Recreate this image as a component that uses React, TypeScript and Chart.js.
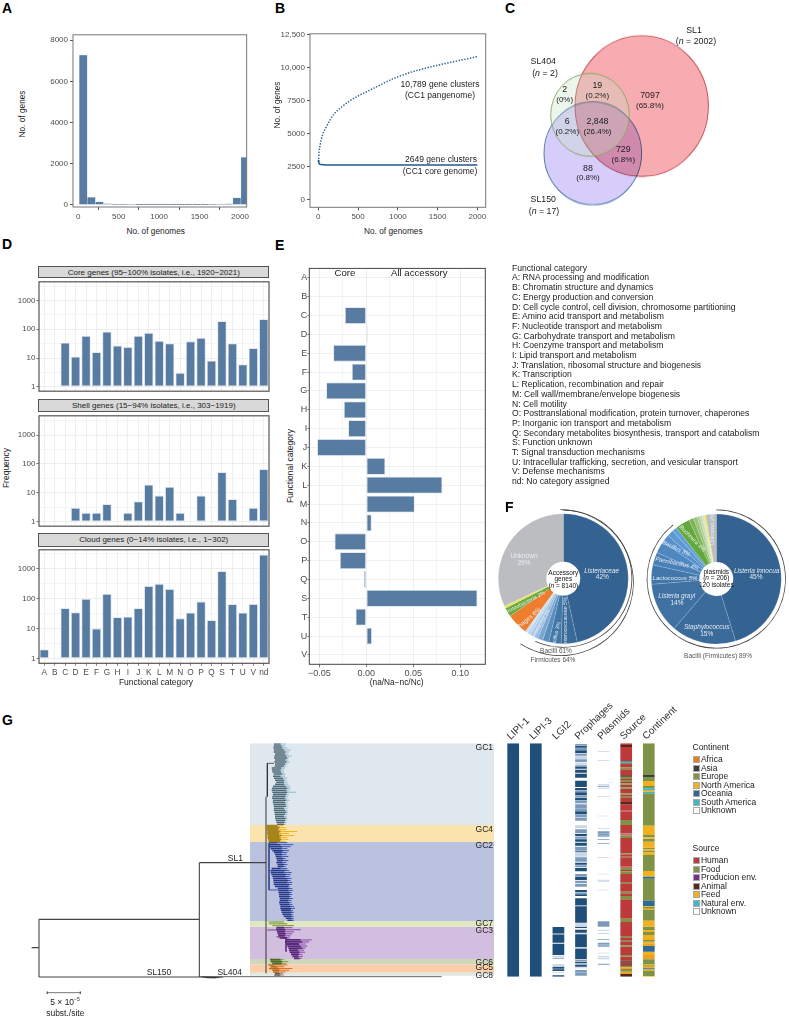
import React, { useEffect, useRef } from 'react';
import { Chart, registerables } from 'chart.js';
Chart.register(...registerables);

const FONT = '"Liberation Sans", Arial, sans-serif';
const BAR = '#587ba1';
const BAR_EDGE = 'rgba(205,216,230,0.9)';
const TICK = '#4d4d4d';

// ---------- A
const histBins = [62, 162, 262, 362, 462, 562, 662, 762, 862, 962, 1062, 1162, 1262, 1362, 1462, 1562, 1662, 1762, 1862, 1962, 2062];
const histGenes = [7280, 370, 150, 70, 30, 25, 20, 12, 10, 10, 8, 8, 8, 10, 10, 12, 15, 20, 50, 340, 2310];
// ---------- B
const panX = [1, 5, 10, 25, 50, 100, 150, 200, 300, 400, 500, 600, 700, 800, 900, 1000, 1100, 1200, 1300, 1400, 1500, 1600, 1700, 1800, 1900, 2000];
const panY = [2850, 3250, 3650, 4200, 4850, 5500, 6050, 6500, 7050, 7500, 7850, 8150, 8450, 8750, 9050, 9300, 9520, 9720, 9880, 10040, 10180, 10320, 10450, 10580, 10700, 10850];
const coreX = [1, 5, 15, 30, 100, 500, 1000, 1500, 2000];
const coreY = [3000, 2800, 2680, 2640, 2620, 2610, 2610, 2610, 2610];
// ---------- C  (SL404 is first so that it is painted last, as a pale veil)
const vennNames = ['SL404', 'SL1', 'SL150'];
const vennX = [50, 101.7, 52.8];
const vennY = [89.9, 81.6, 126.3];
const vennR = [39.3, 66.7, 48.8];
const vennFill = ['rgba(195,225,195,0.3)', '#f7acb2', '#d7cdfa'];
const vennStroke = ['#8aa860', '#c9505a', '#4a7fa8'];
// ---------- D
const cats = ['A', 'B', 'C', 'D', 'E', 'F', 'G', 'H', 'I', 'J', 'K', 'L', 'M', 'N', 'O', 'P', 'Q', 'S', 'T', 'U', 'V', 'nd'];
const coreFreq = [null, null, 34, 11, 58, 16, 82, 27, 24, 58, 75, 39, 32, 3, 38, 50, 8, 190, 32, 6, 22, 225];
const shellFreq = [null, null, null, 3, 2, 2, 4, null, 2, 5, 19, 8, 16, 2, null, 8, null, 52, 6, null, 3, 65];
const cloudFreq = [2, null, 48, 35, 98, 10, 145, 24, 25, 48, 265, 315, 210, 22, 34, 80, 19, 830, 65, 34, 66, 3000];
const logTicks = [1, 3.162, 10, 31.62, 100, 316.2, 1000, 3162];
const logMajor = [1, 10, 100, 1000];
// ---------- E
const eCats = ['A', 'B', 'C', 'D', 'E', 'F', 'G', 'H', 'I', 'J', 'K', 'L', 'M', 'N', 'O', 'P', 'Q', 'S', 'T', 'U', 'V'];
const eVals = [-0.0005, -0.0004, -0.0227, 0.0015, -0.0351, -0.0153, -0.0426, -0.0238, -0.0192, -0.0522, 0.0202, 0.0809, 0.0515, 0.0057, -0.0337, -0.028, -0.0025, 0.1182, -0.0113, 0.006, 0.0005];
const eTicks = [-0.05, -0.025, 0, 0.025, 0.05, 0.075, 0.1];
const eMajor = [-0.05, 0, 0.05, 0.1];
const funcLegend = [
  'Functional category', 'A: RNA processing and modification', 'B: Chromatin structure and dynamics', 'C: Energy production and conversion',
  'D: Cell cycle control, cell division, chromosome partitioning', 'E: Amino acid transport and metabolism', 'F: Nucleotide transport and metabolism',
  'G: Carbohydrate transport and metabolism', 'H: Coenzyme transport and metabolism', 'I: Lipid transport and metabolism',
  'J: Translation, ribosomal structure and biogenesis', 'K: Transcription', 'L: Replication, recombination and repair',
  'M: Cell wall/membrane/envelope biogenesis', 'N: Cell motility', 'O: Posttranslational modification, protein turnover, chaperones',
  'P: Inorganic ion transport and metabolism', 'Q: Secondary metabolites biosynthesis, transport and catabolism', 'S: Function unknown',
  'T: Signal transduction mechanisms', 'U: Intracellular trafficking, secretion, and vesicular transport', 'V: Defense mechanisms', 'nd: No category assigned',
];
// ---------- F
const accNames = ['Listeriaceae', 'Enterococcaceae', 'Bacillus', 'Lactobacillus', 'b5', 'b6', 'b7', 'b8', 'b9', 'Phages', 'Proteobacteria', 'Other', 'Unknown'];
const accShare = [46.5, 4, 3, 1.6, 1.3, 1.2, 0.9, 0.8, 0.6, 5.3, 2.2, 0.6, 31.9];
const accColors = ['#356391', '#3a6a99', '#4277a8', '#5a8ebd', '#7aa6d0', '#94bade', '#a9c9e6', '#bcd6ee', '#cde1f3', '#ef7d2e', '#6aa83e', '#e8e05a', '#bbbdc0'];
const plasNames = ['Listeria innocua', 'Staphylococcus', 'Listeria grayi', 'Lactococcus', 'Paenibacillus', 'Bacillus', 'b7', 'b8', 'b9', 'Buchnera', 'g2', 'g3', 'g4', 'g5', 'g6', 'Other', 'Unknown'];
const plasShare = [45.2, 16, 12.5, 4.8, 3.2, 3, 2, 1.6, 1.2, 3.6, 1.2, 0.9, 0.7, 0.6, 0.5, 0.4, 2.6];
const plasColors = ['#356391', '#3a6b9a', '#3f71a3', '#4377ac', '#4a80b8', '#4f88c0', '#5590cc', '#5c98d2', '#659fd8', '#62a83a', '#7eb558', '#98c278', '#aecf94', '#c2dbae', '#d3e5c4', '#f2e33c', '#bbbdc0'];
const bacilliArc = [56.7, 43.3];
const firmicutesArc = [59.2, 40.8];
const plasmidArc = [89.3, 10.7];
// ---------- G bands (binned genome rank, 0-700)
const gcNames = ['GC1', 'GC4', 'GC2', 'GC7', 'GC3', 'GC6', 'GC5', 'GC8'];
const gcStart = [0, 245, 296, 533, 550, 647, 663, 688];
const gcEnd = [245, 296, 533, 550, 647, 663, 688, 697];
const gcColors = ['#dfe8ef', '#fbe3ad', '#bac2e0', '#dfe8bf', '#d2bede', '#cfd8bc', '#fbcfab', '#dde9e5'];
// backbone edges: x0, y0, x1, y1 in branch length / rank
const spineEdges = [
  [-22, 613, 0, 613], [0, 528, 0, 701], [0, 528, 481, 528], [0, 701, 483, 701], [481, 358, 481, 701], [481, 358, 683, 358],
  [681, 160, 681, 690],
];
const thinEdges = [[685, 60, 685, 160], [685, 60, 705, 60], [481, 700, 1208, 700], [483, 701, 551, 702], [490, 702, 540, 703], [500, 703, 530, 704]];
const scaleBarEdges = [[25, 748, 124, 748], [25, 745, 25, 752], [124, 745, 124, 752]];
// tips: [left, core end, tip end]
const gc1Rows = [
  [705, 725, 740], [704, 728, 738], [703, 730, 745], [705, 735, 755], [704, 740, 750], [708, 738, 748], [706, 742, 758], [705, 745, 750], [708, 740, 748], [706, 743, 752], [708, 738, 745], [707, 735, 742],
  [698, 728, 738], [699, 725, 735], [700, 726, 735], [704, 730, 740], [702, 725, 738], [705, 732, 745], [708, 735, 742], [712, 735, 745], [708, 735, 748], [702, 740, 752], [699, 745, 755], [698, 742, 752], [700, 745, 772],
  [702, 742, 750], [700, 740, 748], [699, 738, 745], [702, 742, 752], [701, 738, 746], [703, 740, 745], [704, 741, 748], [705, 735, 745], [704, 738, 746], [706, 742, 748], [707, 738, 745], [708, 735, 744], [708, 740, 746], [710, 738, 744], [712, 737, 742], [714, 735, 740],
];
const gc4Rows = [[683, 715, 732], [684, 722, 740], [683, 718, 742], [685, 725, 775], [684, 720, 750], [686, 728, 765], [685, 722, 745], [687, 726, 748], [688, 724, 738]];
const gc2Rows = [
  [690, 715, 745], [690, 725, 763], [692, 730, 755], [695, 728, 745], [700, 733, 750], [705, 728, 745], [708, 730, 742], [710, 728, 748], [712, 732, 740], [714, 733, 748], [712, 730, 742], [715, 735, 745], [716, 733, 740],
  [698, 725, 745], [696, 740, 750], [695, 735, 758], [697, 742, 755], [700, 738, 752], [702, 745, 758],
  [703, 748, 755], [704, 745, 760], [704, 750, 758], [708, 748, 752], [716, 752, 760], [718, 748, 762], [718, 753, 758], [720, 750, 760], [720, 752, 756], [722, 752, 762], [722, 748, 758], [720, 750, 757], [722, 752, 760],
  [724, 755, 765], [724, 756, 768], [726, 755, 762], [728, 758, 765], [730, 756, 762], [734, 758, 764], [740, 758, 764], [745, 760, 765],
];
const gc7Rows = [[688, 700, 735], [690, 720, 745], [700, 745, 765]];
const gc3Rows = [
  [712, 735, 760], [711, 740, 785], [714, 738, 765], [716, 740, 760], [718, 738, 755], [722, 745, 752],
  [740, 785, 818], [738, 790, 810], [742, 780, 800], [745, 785, 805], [748, 790, 800], [750, 778, 795], [752, 782, 798], [756, 780, 790], [760, 778, 792], [765, 782, 788],
];
const gc6Rows = [[693, 725, 735], [695, 730, 748], [700, 728, 742]];
const gc5Rows = [[688, 705, 745], [695, 715, 735], [690, 720, 760], [700, 722, 750], [702, 720, 740]];
const gc8Rows = [[708, 722, 732], [706, 725, 735]];
const gc2Edges = [[690, 300, 690, 440], [690, 440, 718, 440], [690, 382, 700, 382]];
const gc3Edges = [[685, 560, 712, 560], [741, 585, 741, 625], [712, 580, 740, 585]];
// ---------- G tracks
const tracks = ['LIPI-1', 'LIPI-3', 'LGI2', 'Prophages', 'Plasmids', 'Source', 'Continent'];
const lipi1Runs = [[0, 700, 'd'], [12, 13, 'm'], [570, 571, 'm'], [610, 611, 'm']];
const lipi3Runs = [[0, 700, 'd'], [210, 211, 'm'], [130, 131, 'm']];
const lgi2Runs = [[551, 570, 'd'], [570, 574, 'm'], [574, 598, 'd'], [601, 635, 'd'], [637, 641, 'l'], [643, 646, 'm'], [663, 668, 'l'], [670, 676, 'd'], [678, 683, 'd'], [686, 688, 'l'], [696, 700, 'd']];
const prophageRuns = [
  [2, 7, 'm'], [8, 13, 'd'], [14, 20, 'm'], [21, 30, 'd'], [32, 37, 'm'], [38, 47, 'l'], [48, 56, 'm'], [58, 64, 'l'], [66, 70, 'm'],
  [70, 76, 'd'], [77, 78, 'l'], [79, 88, 'd'], [89, 90, 'l'], [91, 103, 'd'], [112, 131, 'd'], [134, 140, 'd'], [141, 146, 'm'], [147, 155, 'd'], [156, 162, 'm'], [163, 170, 'd'], [171, 180, 'm'], [183, 196, 'm'], [197, 203, 'm'], [204, 212, 'd'], [213, 222, 'm'], [223, 232, 'm'],
  [246, 254, 'l'], [258, 270, 'm'], [272, 279, 'd'], [281, 286, 'm'], [288, 295, 'd'], [298, 307, 'd'], [310, 322, 'm'], [324, 327, 'd'], [329, 340, 'l'], [342, 355, 'm'], [358, 364, 'd'], [366, 372, 'm'], [374, 384, 'd'],
  [392, 400, 'm'], [401, 410, 'd'], [412, 420, 'm'], [422, 430, 'm'], [440, 447, 'd'], [448, 452, 'm'], [453, 458, 'd'],
  [465, 485, 'd'], [486, 488, 'm'], [489, 538, 'd'], [540, 548, 'l'], [550, 554, 'd'], [556, 558, 'l'], [559, 568, 'd'], [570, 572, 'l'], [573, 612, 'd'], [614, 616, 'm'], [617, 648, 'd'],
  [650, 654, 'm'], [655, 660, 'd'], [661, 664, 'm'], [665, 670, 'd'], [672, 675, 'l'], [680, 688, 'm'], [689, 697, 'm'],
];
const plasmidRuns = [
  [23, 25, 'l'], [50, 52, 'l'], [122, 124, 'l'], [127, 130, 'm'], [133, 136, 'l'], [159, 161, 'l'], [217, 219, 'l'], [254, 256, 'l'], [264, 269, 'm'], [270, 275, 'm'], [276, 280, 'm'], [287, 289, 'm'], [299, 301, 'm'], [341, 343, 'l'], [391, 393, 'l'], [409, 412, 'l'], [414, 416, 'l'], [439, 441, 'l'],
  [534, 542, 'm'], [542, 550, 'm'], [559, 562, 'l'], [569, 572, 'l'], [587, 589, 'm'], [598, 604, 'm'], [606, 610, 'm'], [628, 630, 'l'], [638, 642, 'l'], [644, 648, 'l'], [661, 664, 'm'],
];
const sourceRuns = [
  [0, 5, 'R'], [5, 11, 'A'], [11, 53, 'R'], [53, 58, 'N'], [58, 62, 'F'], [62, 72, 'R'], [72, 78, 'F'], [78, 96, 'R'], [96, 100, 'A'], [100, 107, 'F'], [107, 112, 'R'], [112, 116, 'F'], [116, 120, 'R'], [120, 124, 'F'], [124, 132, 'R'], [132, 136, 'F'], [136, 150, 'R'], [150, 154, 'F'], [154, 160, 'R'], [160, 164, 'F'], [164, 176, 'R'], [176, 183, 'A'], [183, 202, 'R'], [202, 206, 'P'], [206, 230, 'R'], [230, 245, 'F'],
  [245, 270, 'R'], [270, 276, 'P'], [276, 284, 'F'], [284, 330, 'R'], [330, 333, 'F'], [333, 340, 'R'], [340, 342, 'F'], [342, 370, 'R'], [370, 374, 'P'], [374, 380, 'F'], [380, 384, 'R'], [384, 392, 'F'], [392, 418, 'R'], [418, 422, 'F'], [422, 445, 'R'], [445, 450, 'F'], [450, 458, 'R'], [458, 468, 'F'], [468, 526, 'R'], [526, 536, 'F'], [536, 578, 'R'], [578, 582, 'F'], [582, 590, 'R'], [590, 594, 'F'], [594, 606, 'R'], [606, 610, 'F'], [610, 635, 'R'], [635, 640, 'F'], [640, 652, 'R'], [652, 655, 'A'], [655, 660, 'R'], [660, 664, 'A'], [664, 668, 'R'], [668, 672, 'F'], [672, 677, 'O'], [677, 685, 'F'], [685, 692, 'O'], [692, 700, 'A'],
];
const continentRuns = [
  [0, 95, 'E'], [95, 102, 'S'], [102, 113, 'E'], [113, 128, 'G'], [128, 135, 'E'], [135, 140, 'T'], [140, 145, 'G'], [145, 150, 'T'], [150, 247, 'E'],
  [247, 275, 'G'], [275, 282, 'E'], [282, 286, 'G'], [286, 295, 'E'], [295, 313, 'G'], [313, 318, 'E'], [318, 323, 'G'], [323, 327, 'E'], [327, 335, 'G'], [335, 383, 'E'], [383, 400, 'G'], [400, 406, 'B'], [406, 472, 'E'], [472, 488, 'B'], [488, 490, 'G'], [490, 496, 'E'], [496, 500, 'G'], [500, 532, 'E'], [532, 550, 'G'], [550, 560, 'E'], [560, 566, 'G'], [566, 575, 'E'], [575, 590, 'G'], [590, 595, 'E'], [595, 600, 'G'], [600, 608, 'O'], [608, 625, 'B'], [625, 635, 'G'], [635, 648, 'O'], [648, 662, 'E'], [662, 666, 'G'], [666, 670, 'E'], [670, 675, 'G'], [675, 678, 'B'], [678, 683, 'G'], [683, 698, 'E'], [698, 700, 'G'],
];
const trackRuns = [lipi1Runs, lipi3Runs, lgi2Runs, prophageRuns, plasmidRuns, sourceRuns, continentRuns];
const stripeColors = { m: '#7c9bbc', l: '#c9d6e4', R: '#bc3a3a', F: '#7e9347', A: '#4f2a1c', N: '#4a8fb0', P: '#c96a78', O: '#f0a020', E: '#7e9347', G: '#f0b020', S: '#3f3f3f', B: '#2e6a93', T: '#3fb5c9', d: '#1f4e79' };
const continentLegend = [['Africa', '#ee7a1a'], ['Asia', '#3f3f3f'], ['Europe', '#7e9347'], ['North America', '#f0b020'], ['Oceania', '#2e6a93'], ['South America', '#3fb5c9'], ['Unknown', '#ffffff']];
const sourceLegend = [['Human', '#bc3a3a'], ['Food', '#7e9347'], ['Producion env.', '#7b2d8e'], ['Animal', '#5a2a1c'], ['Feed', '#f0b020'], ['Natural env.', '#3fb5c9'], ['Unknown', '#ffffff']];

// ---------- helpers
type Box = { L: number; T: number; R: number; B: number; m: number[] };

function build(box: Box, type: string, data: any, scales: any, opts: any = {}) {
  const [mL, mT, mR, mB] = box.m;
  const left = Math.floor(box.L - mL), top = Math.floor(box.T - mT);
  const width = Math.ceil(box.R + mR) - left, height = Math.ceil(box.B + mB) - top;
  const gapL = box.L - left, gapT = box.T - top, gapR = left + width - box.R, gapB = top + height - box.B;
  const showX = scales.x.display !== false, showY = scales.y.display !== false;
  const xTop = scales.x.position === 'top';
  if (showX) scales.x.afterFit = (s: any) => { s.height = xTop ? gapT : gapB; };
  if (showY) scales.y.afterFit = (s: any) => { s.width = gapL; };
  return {
    pos: { left, top, width, height },
    config: {
      type, data,
      plugins: opts.plugins || [],
      options: {
        responsive: false, animation: false, maintainAspectRatio: false, events: [],
        layout: { autoPadding: false, padding: { left: showY ? 0 : gapL, top: showX && xTop ? 0 : gapT, right: gapR, bottom: showX && !xTop ? 0 : gapB } },
        plugins: { legend: { display: false }, tooltip: { enabled: false }, title: { display: false } },
        scales, ...(opts.options || {}),
      },
    },
  };
}

function Plot({ spec, stretch }: { spec: any; stretch?: number }) {
  const ref = useRef<HTMLCanvasElement>(null);
  useEffect(() => {
    const c = new Chart(ref.current as any, spec.config);
    if (stretch) { (ref.current as any).style.height = spec.pos.height * stretch + 'px'; }
    return () => c.destroy();
  }, []);
  const { left, top, width, height } = spec.pos;
  return <canvas ref={ref} width={width} height={height} style={{ position: 'absolute', left, top, width, height }} />;
}

function T({ x, y, s = 8.5, c = '#222', a = 'c', r = 0, b, i, children }: any) {
  const tx = a === 'c' ? '-50%' : a === 'r' ? '-100%' : '0';
  return (
    <div style={{ position: 'absolute', left: x, top: y, fontSize: s, color: c, lineHeight: 1, whiteSpace: 'pre', fontWeight: b ? 700 : 400, fontStyle: i ? 'italic' : 'normal', transform: `translate(${tx},-50%) rotate(${r}deg)` }}>
      {children}
    </div>
  );
}

const framePlugin = (color: string, lw: number) => ({
  id: 'frame',
  afterDatasetsDraw(c: any) {
    const a = c.chartArea, g = c.ctx;
    g.save(); g.strokeStyle = color; g.lineWidth = lw;
    g.strokeRect(a.left, a.top, a.right - a.left, a.bottom - a.top);
    g.restore();
  },
});
const blendPlugin = {
  id: 'blend',
  beforeDatasetDraw(c: any, args: any) { c.ctx.globalCompositeOperation = args.index === 0 ? 'source-over' : 'multiply'; },
  afterDatasetsDraw(c: any) { c.ctx.globalCompositeOperation = 'source-over'; },
};

const tickFont = { family: FONT, size: 8 };
const fixedTicks = (vals: number[]) => (s: any) => { s.ticks = vals.map(value => ({ value })); };
const hidden = (extra: any = {}) => ({ type: 'linear', display: false, ...extra });
const plain = (v: number) => String(v);

const barStyle = { backgroundColor: BAR, borderColor: BAR_EDGE, borderWidth: 0.8, borderSkipped: false };

// ---------- A
const specA = build({ L: 73, T: 32.3, R: 247, B: 207, m: [30, 4, 4, 16] }, 'bar', {
  datasets: [{ data: histBins.map((x, i) => ({ x, y: histGenes[i] })), barThickness: 8, ...barStyle, borderWidth: 0.5 }],
}, {
  x: { type: 'linear', offset: false, min: -65, max: 2083, afterBuildTicks: fixedTicks([0, 500, 1000, 1500, 2000]), grid: { display: true, drawOnChartArea: false, tickLength: 3, tickColor: '#555' }, border: { display: false }, ticks: { font: tickFont, color: TICK, padding: 2, maxRotation: 0, autoSkip: false, callback: plain } },
  y: { min: -100, max: 8260, afterBuildTicks: fixedTicks([0, 2000, 4000, 6000, 8000]), grid: { display: true, drawOnChartArea: false, tickLength: 3, tickColor: '#555' }, border: { display: false }, ticks: { font: tickFont, color: TICK, padding: 2, callback: plain } },
}, { plugins: [framePlugin('#777', 1)] });

// ---------- B
const specB = build({ L: 310, T: 31.7, R: 485.7, B: 207.3, m: [36, 4, 4, 16] }, 'line', {
  datasets: [
    { data: coreX.map((x, i) => ({ x, y: coreY[i] })), borderColor: '#235a8c', borderWidth: 1.5, pointRadius: 0 },
    { data: panX.map((x, i) => ({ x, y: panY[i] })), borderColor: '#2f6597', borderWidth: 1.5, borderDash: [1.4, 1.5], pointRadius: 0, cubicInterpolationMode: 'monotone' },
  ],
}, {
  x: { type: 'linear', min: -105, max: 2105, afterBuildTicks: fixedTicks([0, 500, 1000, 1500, 2000]), grid: { display: true, drawOnChartArea: false, tickLength: 3, tickColor: '#555' }, border: { display: false }, ticks: { font: tickFont, color: TICK, padding: 2, maxRotation: 0, autoSkip: false, callback: plain } },
  y: { min: -600, max: 12570, afterBuildTicks: fixedTicks([0, 2500, 5000, 7500, 10000, 12500]), grid: { display: true, drawOnChartArea: false, tickLength: 3, tickColor: '#555' }, border: { display: false }, ticks: { font: tickFont, color: TICK, padding: 2, callback: (v: number) => (v >= 10000 ? v.toLocaleString('en-US') : String(v)) } },
}, { plugins: [framePlugin('#777', 1)] });

// ---------- C
const specC = build({ L: 540, T: 20, R: 740, B: 220, m: [0, 0, 0, 0] }, 'bubble', {
  datasets: vennNames.map((n, i) => ({ label: n, data: [{ x: vennX[i], y: vennY[i], r: vennR[i] }], backgroundColor: vennFill[i], borderColor: vennStroke[i], borderWidth: 0.9 })),
}, {
  x: hidden({ min: 0, max: 200 }),
  y: hidden({ min: 0, max: 200, reverse: true }),
}, { plugins: [blendPlugin] });

// ---------- D
const facet = (T0: number, B0: number, one: number, vals: any[], showX: boolean) => {
  const dec = 30.67;
  return build({ L: 39, T: T0, R: 269, B: B0, m: [28, 2, 2, showX ? 14 : 2] }, 'bar', {
    labels: cats,
    datasets: [{ data: vals, base: 1, barPercentage: 0.88, categoryPercentage: 1, ...barStyle }],
  }, {
    x: { type: 'category', offset: true, grid: { offset: false, color: '#e9e9e9', lineWidth: 0.7, drawTicks: showX, tickLength: 2.5, tickColor: '#555' }, border: { display: false }, ticks: { display: showX, font: { family: FONT, size: 8.3 }, color: TICK, padding: 2, maxRotation: 0, autoSkip: false } },
    y: {
      type: 'logarithmic', min: Math.pow(10, -(B0 - one) / dec), max: Math.pow(10, (one - T0) / dec), afterBuildTicks: fixedTicks(logTicks),
      grid: { color: (c: any) => (logMajor.includes(c.tick?.value) ? '#e6e6e6' : '#f1f1f1'), lineWidth: 0.7, tickLength: 2.5, tickColor: (c: any) => (logMajor.includes(c.tick?.value) ? '#444' : 'rgba(0,0,0,0)') },
      border: { display: false }, ticks: { font: tickFont, color: TICK, padding: 1, autoSkip: false, callback: (v: number) => (logMajor.includes(v) ? String(v) : '') },
    },
  }, { plugins: [framePlugin('#555', 1.2)] });
};
const specCore = facet(278.3, 395, 390.3, coreFreq, false);
const specShell = facet(412.3, 529.3, 524.7, shellFreq, false);
const specCloud = facet(546.7, 663.3, 658.3, cloudFreq, true);

// ---------- E
const specE = build({ L: 309.3, T: 265.7, R: 485.3, B: 664.3, m: [12, 2, 14, 14] }, 'bar', {
  labels: eCats,
  datasets: [{ data: eVals, barPercentage: 0.89, categoryPercentage: 1, ...barStyle }],
}, {
  x: {
    type: 'linear', min: -0.0606, max: 0.1266, afterBuildTicks: fixedTicks(eTicks),
    grid: { color: (c: any) => (eMajor.includes(c.tick?.value) ? '#e6e6e6' : '#f1f1f1'), lineWidth: 0.7, tickLength: 3, tickColor: (c: any) => (eMajor.includes(c.tick?.value) ? '#444' : 'rgba(0,0,0,0)') },
    border: { display: false },
    ticks: { font: { family: FONT, size: 9 }, color: TICK, padding: 1, maxRotation: 0, autoSkip: false, callback: (v: number) => (eMajor.includes(v) ? (v < 0 ? '\u2212' : '') + Math.abs(v).toFixed(2) : '') },
  },
  y: { type: 'category', offset: true, grid: { offset: false, color: '#e9e9e9', lineWidth: 0.7, tickLength: 2, tickColor: '#555' }, border: { display: false }, ticks: { font: { family: FONT, size: 9 }, color: TICK, padding: 0, autoSkip: false } },
}, { options: { indexAxis: 'y' }, plugins: [framePlugin('#444', 1)] });

// ---------- F
const pieBox = (cx: number, cy: number, half: number): Box => ({ L: cx - half, T: cy - half, R: cx + half, B: cy + half, m: [0, 0, 0, 0] });
const pie = (cx: number, cy: number, vals: number[], colors: string[], names: string[]) => build(pieBox(cx, cy, 70), 'doughnut', {
  labels: names,
  datasets: [{ data: vals, backgroundColor: colors, borderColor: 'rgba(255,255,255,0.35)', borderWidth: 0.4 }],
}, { x: hidden(), y: hidden() }, { options: { radius: 65, cutout: '26%' } });
const arc = (cx: number, cy: number, r: number, vals: number[]) => build(pieBox(cx, cy, r + 3), 'doughnut', {
  datasets: [{ data: vals, backgroundColor: ['#444', 'rgba(0,0,0,0)'], borderWidth: 0 }],
}, { x: hidden(), y: hidden() }, { options: { radius: r, cutout: (100 * (r - 0.8)) / r + '%' } });
const specAcc = pie(563.3, 578.7, accShare, accColors, accNames);
const specPlas = pie(716.3, 579, plasShare, plasColors, plasNames);
const specArc1 = arc(563.3, 578.7, 69, bacilliArc);
const specArc2 = arc(560.4, 582.7, 73.4, firmicutesArc);
const specArc3 = arc(716.3, 579, 69.6, plasmidArc);

// ---------- G
const TREE_T = 743.33;
const specBands = build({ L: 250, T: TREE_T, R: 494, B: TREE_T + 700 / 3, m: [0, 0, 0, 0] }, 'bar', {
  labels: ['clades'],
  datasets: gcNames.map((n, i) => ({ label: n, data: [[gcStart[i], gcEnd[i]]], backgroundColor: gcColors[i], barPercentage: 1, categoryPercentage: 1, grouped: false, inflateAmount: 0, borderWidth: 0 })),
}, { x: { type: 'category', display: false }, y: hidden({ min: 0, max: 700, reverse: true }) });

const edgePts = (edges: number[][]) => edges.flatMap(e => [{ x: e[0], y: e[1] }, { x: e[2], y: e[3] }, { x: NaN, y: NaN }]);
const tipPts = (rows: number[][], y0: number, y1: number, from: number, to: number) => rows.flatMap((r, i) => {
  const y = y0 + (i * (y1 - y0)) / Math.max(rows.length - 1, 1);
  return [{ x: r[from], y }, { x: r[to], y }, { x: NaN, y: NaN }];
});
const line = (data: any[], color: string, w: number) => ({ data, showLine: true, pointRadius: 0, borderColor: color, borderWidth: w });
const clade = (rows: number[][], y0: number, y1: number, dark: string, light: string, w = 1.5) => [line(tipPts(rows, y0, y1, 0, 1), dark, w), line(tipPts(rows, y0, y1, 1, 2), light, 1)];

const specTree = build({ L: 30, T: TREE_T, R: 494, B: TREE_T + 760 / 3, m: [0, 0, 0, 0] }, 'scatter', {
  datasets: [
    line(edgePts(spineEdges), '#444', 1.1),
    line(edgePts(thinEdges), '#222', 0.7),
    line(edgePts(scaleBarEdges), '#555', 0.8),
    line(edgePts(gc2Edges), '#2a3f8f', 0.8),
    line(edgePts(gc3Edges), '#5a2a7a', 0.8),
    ...clade(gc1Rows, 2, 243, '#4f6a78', '#8fb8cc'),
    ...clade(gc4Rows, 247, 294, '#a8851a', '#eeb51a', 2),
    ...clade(gc2Rows, 298, 531, '#27398a', '#3a57b0', 1.5),
    ...clade(gc7Rows, 536, 547, '#6f8f20', '#6f8f20', 0.9),
    ...clade(gc3Rows, 553, 645, '#5a2a7c', '#8a4aa8', 1.8),
    ...clade(gc6Rows, 649, 661, '#4a6a20', '#7c9a3c', 1.6),
    ...clade(gc5Rows, 665, 686, '#c06a20', '#e07020', 1.5),
    ...clade(gc8Rows, 690, 695, '#555', '#888', 1.4),
  ],
}, { x: hidden({ min: -27, max: 1365 }), y: hidden({ min: 0, max: 760, reverse: true }) });

const stripeDatasets = () => {
  const keys = Object.keys(stripeColors) as (keyof typeof stripeColors)[];
  return keys.map(k => ({
    data: trackRuns.flatMap((runs, t) => runs.filter(r => r[2] === k).map(r => ({ x: tracks[t], y: [r[0], r[1]] }))),
    backgroundColor: stripeColors[k], barThickness: 11.7, grouped: false, borderWidth: 0, inflateAmount: 0,
  })).reverse();
};
const specTracks = build({ L: 501.9, T: TREE_T, R: 660.1, B: TREE_T + 700 / 3, m: [0, 50, 40, 0] }, 'bar', {
  labels: tracks,
  datasets: stripeDatasets(),
}, {
  x: { type: 'category', position: 'top', offset: true, grid: { display: false, drawTicks: false }, border: { display: false }, ticks: { font: { family: FONT, size: 10 }, color: '#333', autoSkip: false, minRotation: 44, maxRotation: 44, padding: 1, labelOffset: 4 } },
  y: hidden({ min: 0, max: 700, reverse: true }),
});

function Legend({ x, y, title, rows, step }: any) {
  return (
    <>
      <T x={x} y={y} a="l">{title}</T>
      {rows.map((r: string[], i: number) => (
        <React.Fragment key={r[0]}>
          <div style={{ position: 'absolute', left: x, top: y + 12.6 + i * step - 3, width: 5, height: 5, background: r[1], border: '0.7px solid #aaa' }} />
          <T x={x + 8.4} y={y + 12.6 + i * step} a="l">{r[0]}</T>
        </React.Fragment>
      ))}
    </>
  );
}

const strips = [
  { t: 265.7, b: 278.3, label: 'Core genes (95\u2212100% isolates, i.e., 1920\u22122021)' },
  { t: 399.3, b: 412.3, label: 'Shell genes (15\u221294% isolates, i.e., 303\u22121919)' },
  { t: 533.3, b: 546.7, label: 'Cloud genes (0\u221214% isolates, i.e., 1\u2212302)' },
];
const PIE_TEXT = 'rgba(236,241,248,0.95)';
const gcLabelY = [746.7, 829, 845, 923.3, 929.7, 961.7, 967.3, 974.7];
const vennLabels = [
  ['2', '(0%)', 564.7, 89.3, 99.7], ['19', '(0.2%)', 597.3, 85.3, 95.7], ['7097', '(65.8%)', 650, 95.3, 105.7], ['6', '(0.2%)', 567.3, 121.3, 132],
  ['2,848', '(26.4%)', 597.5, 121.3, 132], ['729', '(6.8%)', 623.3, 149.3, 159.7], ['88', '(0.8%)', 588, 167.7, 178],
];

export default function App() {
  return (
    <div style={{ position: 'absolute', left: 0, top: 0, width: 789, height: 1018, overflow: 'hidden', background: '#fff', fontFamily: FONT }}>
      <Plot spec={specA} />
      <Plot spec={specB} />
      <Plot spec={specC} stretch={1.057} />
      <Plot spec={specCore} />
      <Plot spec={specShell} />
      <Plot spec={specCloud} />
      <Plot spec={specE} />
      <Plot spec={specAcc} />
      <Plot spec={specPlas} />
      <Plot spec={specArc1} />
      <Plot spec={specArc2} />
      <Plot spec={specArc3} />
      <Plot spec={specBands} />
      <Plot spec={specTree} />
      <Plot spec={specTracks} />

      {[['A', 2, 8.3], ['B', 275, 8.3], ['C', 505, 8.3], ['D', 2, 244], ['E', 275, 245], ['F', 505, 506.7], ['G', 2, 720]].map(p => (
        <T key={p[0] as string} x={p[1]} y={p[2]} a="l" s={14} b c="#000">{p[0]}</T>
      ))}

      <T x={21.7} y={113.5} r={-90} s={8.3}>No. of genes</T>
      <T x={155.7} y={231} s={8.3}>No. of genomes</T>
      <T x={276.7} y={105} r={-90} s={8.3}>No. of genes</T>
      <T x={393.3} y={231} s={8.3}>No. of genomes</T>
      <T x={440} y={84.3}>10,789 gene clusters</T>
      <T x={440} y={95}>(CC1 pangenome)</T>
      <T x={441} y={158.7}>2649 gene clusters</T>
      <T x={440} y={171}>(CC1 core genome)</T>

      <T x={694} y={30} s={8.8}>SL1</T>
      <T x={696} y={41.3} s={8.8}>(<i>n</i> = 2002)</T>
      <T x={543.3} y={61.3} s={8.8}>SL404</T>
      <T x={545} y={72.7} s={8.8}>(<i>n</i> = 2)</T>
      <T x={543.3} y={199} s={8.8}>SL150</T>
      <T x={544} y={210.7} s={8.8}>(<i>n</i> = 17)</T>
      {vennLabels.map(v => (
        <React.Fragment key={String(v[2])}>
          <T x={v[2]} y={v[3]} s={8.8}>{v[0]}</T>
          <T x={v[2]} y={v[4]} s={8}>{v[1]}</T>
        </React.Fragment>
      ))}

      {strips.map(s => (
        <div key={s.label} style={{ position: 'absolute', left: 38.4, top: s.t, width: 230.8, height: s.b - s.t, boxSizing: 'border-box', background: '#d9d9d9', border: '0.9px solid #555', fontSize: 8, lineHeight: `${s.b - s.t - 1.5}px`, textAlign: 'center', color: '#222', whiteSpace: 'pre' }}>{s.label}</div>
      ))}
      <T x={6} y={468} r={-90} s={8.5}>Frequency</T>
      <T x={156} y={682.3} s={8.5}>Functional category</T>

      <T x={345} y={273.3} s={9.6}>Core</T>
      <T x={419.3} y={273.3} s={9.6}>All accessory</T>
      <T x={290} y={465.5} r={-90} s={8.5}>Functional category</T>
      <T x={396.7} y={682.3} s={8.3}>(na/Na{'\u2212'}nc/Nc)</T>

      {funcLegend.map((l, i) => (
        <T key={l} x={512} y={267.7 + i * 9.7} a="l" s={8.6}>{l}</T>
      ))}

      <T x={601.7} y={570.7} s={6.5} c={PIE_TEXT} i>Listeriaceae</T>
      <T x={602.3} y={576.9} s={6.5} c={PIE_TEXT}>42%</T>
      <T x={524} y={556} s={6.5} c={PIE_TEXT}>Unknown</T>
      <T x={524} y={562.7} s={6.5} c={PIE_TEXT}>29%</T>
      <T x={525} y={603.3} s={5.5} c={PIE_TEXT} r={-27}>Proteobacteria 2%</T>
      <T x={528.3} y={619.3} s={6.3} c={PIE_TEXT} r={-40}>Phages 6%</T>
      <T x={566} y={621.7} s={5.2} c={PIE_TEXT} r={-90}>Enterococcaceae 5%</T>
      <T x={556} y={635} s={5.2} c={PIE_TEXT} r={-76}>Bacillus 3%</T>
      <T x={541} y={625} s={4.6} c={PIE_TEXT} r={-60}>Lactobacillus 2%</T>
      <T x={563.3} y={572.7} s={6.5} c="#111">Accessory</T>
      <T x={563.3} y={579.3} s={6.5} c="#111">genes</T>
      <T x={563.3} y={586} s={6.5} c="#111">(<i>n</i> = 8140)</T>
      <T x={556} y={650.5} s={6.5} c="#555">Bacilli 61%</T>
      <T x={553} y={660} s={6.5} c="#555">Firmicutes 64%</T>

      <T x={756.7} y={570.7} s={6.5} c={PIE_TEXT} i>Listeria innocua</T>
      <T x={756} y={576.9} s={6.5} c={PIE_TEXT}>45%</T>
      <T x={706.7} y={627} s={6.5} c={PIE_TEXT} i>Staphylococcus</T>
      <T x={706.7} y={634} s={6.5} c={PIE_TEXT}>15%</T>
      <T x={676.7} y={595.7} s={6.5} c={PIE_TEXT} i>Listeria grayi</T>
      <T x={677} y={603} s={6.5} c={PIE_TEXT}>14%</T>
      <T x={675} y={577.7} s={6.2} c={PIE_TEXT} i>Lactococcus 5%</T>
      <T x={676.7} y={564} s={5.8} c={PIE_TEXT} r={12} i>Paenibacillus 4%</T>
      <T x={676} y={549.3} s={5.8} c={PIE_TEXT} r={25} i>Bacillus 3%</T>
      <T x={691.7} y={539.3} s={5.8} c={PIE_TEXT} r={45} i>Buchnera 4%</T>
      <T x={713.3} y={529.3} s={5.4} c={PIE_TEXT} r={-90}>Unknown 2%</T>
      <T x={716.3} y={571.7} s={6.5} c="#111">plasmids</T>
      <T x={716.3} y={578.3} s={6.5} c="#111">(<i>n</i> = 206)</T>
      <T x={716.3} y={585.3} s={6.5} c="#111">120 isolates</T>
      <T x={718} y={656} s={6.5} c="#555">Bacilli (Firmicutes) 89%</T>

      {gcNames.map((g, i) => (
        <T key={g} x={493} y={gcLabelY[i]} a="r" s={8.5}>{g}</T>
      ))}
      <T x={235.3} y={857.7}>SL1</T>
      <T x={159} y={972.3}>SL150</T>
      <T x={229.7} y={971.7}>SL404</T>
      <T x={65} y={1002.3}>5 {'\u00d7'} 10<sup style={{ fontSize: 5, lineHeight: 0 }}>{'\u22125'}</sup></T>
      <T x={65.3} y={1013.3}>subst./site</T>

      <Legend x={692.5} y={746.7} title="Continent" rows={continentLegend} step={8.5} />
      <Legend x={692.5} y={847.7} title="Source" rows={sourceLegend} step={8.5} />
    </div>
  );
}
